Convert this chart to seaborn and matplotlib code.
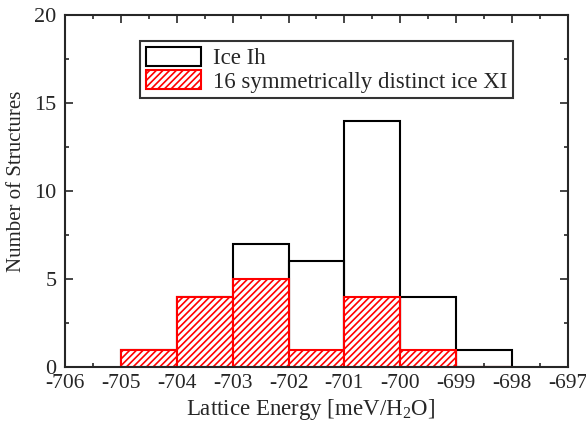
import matplotlib
matplotlib.use("Agg")
import matplotlib.pyplot as plt
import seaborn as sns
import numpy as np
from matplotlib.ticker import MultipleLocator
from matplotlib.patches import Patch

bin_left = [-705, -704, -703, -702, -701, -700, -699]
ice_ih_counts = [1, 4, 7, 6, 14, 4, 1]
ice_xi_counts = [1, 4, 5, 1, 4, 1, 0]
bin_edges = [-705, -704, -703, -702, -701, -700, -699, -698]

sns.set_style("ticks")
plt.rcParams['font.family'] = ['Liberation Serif', 'DejaVu Serif']
plt.rcParams['mathtext.fontset'] = 'custom'
plt.rcParams['mathtext.rm'] = 'Liberation Serif'
plt.rcParams['hatch.color'] = '#e00000'
plt.rcParams['hatch.linewidth'] = 1.2

fig = plt.figure(figsize=(5.86, 4.24), dpi=100)
ax = fig.add_axes([0.111, 0.134, 0.858, 0.831])

centers = [b + 0.5 for b in bin_left]
sns.histplot(x=centers, weights=ice_ih_counts, bins=bin_edges, fill=False,
             element="bars", color="black", linewidth=1.5, ax=ax)
sns.histplot(x=centers, weights=ice_xi_counts, bins=bin_edges, fill=True,
             element="bars", facecolor="white", edgecolor="red", hatch="/////",
             linewidth=1.5, alpha=1, ax=ax)

ax.set_xlim(-706, -697)
ax.set_ylim(0, 20)
ax.xaxis.set_major_locator(MultipleLocator(1))
ax.xaxis.set_minor_locator(MultipleLocator(0.5))
ax.yaxis.set_major_locator(MultipleLocator(5))
ax.yaxis.set_minor_locator(MultipleLocator(2.5))
ax.tick_params(which='both', direction='in', top=True, right=True, labelsize=16, width=1.2)
ax.tick_params(axis='x', labelsize=15.5)
ax.tick_params(which='major', length=6)
ax.tick_params(which='minor', length=3)
ax.tick_params(axis='x', which='major', pad=5)
ax.tick_params(axis='y', which='major', pad=6)
for s in ax.spines.values():
    s.set_linewidth(1.5)
ax.set_xticklabels([f"{int(v)}" for v in ax.get_xticks()])
ax.set_xlabel("Lattice Energy [meV/H$_2$O]", fontsize=16.5, va='top')
ax.set_ylabel("Number of Structures", fontsize=15, va='center')
ax.xaxis.set_label_coords(0.489, -0.085)
ax.yaxis.set_label_coords(-0.097, 0.528)

handles = [Patch(facecolor='white', edgecolor='black', linewidth=1.5, label='Ice Ih'),
           Patch(facecolor='white', edgecolor='red', hatch='/////', linewidth=1.5,
                 label='16 symmetrically distinct ice XI')]
leg = ax.legend(handles=handles, loc='upper left', bbox_to_anchor=(0.149, 0.926),
                fontsize=16.5, frameon=True, fancybox=False, edgecolor='black',
                borderpad=0.25, labelspacing=0.05, handlelength=2.4, handleheight=0.9,
                handletextpad=0.55, borderaxespad=0)
leg.get_frame().set_linewidth(1.5)

fig.savefig("out.png", dpi=100)
